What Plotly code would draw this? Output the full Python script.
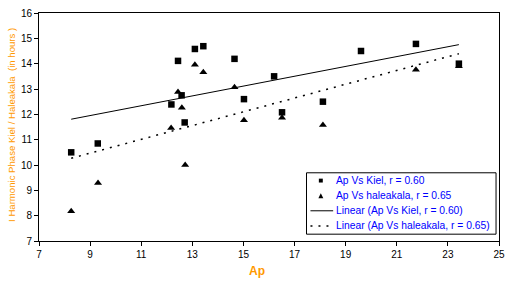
import numpy as np
import plotly.graph_objects as go

# Data
kiel_ap = [8.26, 9.30, 12.18, 12.44, 12.58, 12.70, 13.10, 13.43, 14.65, 15.02, 16.20, 16.51, 18.11, 19.60, 21.75, 23.43]
kiel_phase = [10.50, 10.85, 12.39, 14.11, 12.75, 11.68, 14.58, 14.69, 14.19, 12.60, 13.50, 12.08, 12.50, 14.50, 14.78, 14.00]

hal_ap = [8.26, 9.31, 12.17, 12.44, 12.59, 12.72, 13.10, 13.43, 14.65, 15.02, 16.51, 18.11, 21.75, 23.43]
hal_phase = [8.17, 9.29, 11.46, 12.88, 12.26, 10.00, 13.96, 13.66, 13.07, 11.77, 11.87, 11.58, 13.76, 13.90]

x_ticks = [7, 9, 11, 13, 15, 17, 19, 21, 23, 25]
y_ticks = [7, 8, 9, 10, 11, 12, 13, 14, 15, 16]

legend_labels = ["Ap Vs Kiel, r = 0.60", "Ap Vs haleakala, r = 0.65",
                 "Linear (Ap Vs Kiel, r = 0.60)", "Linear (Ap Vs haleakala, r = 0.65)"]

def trend(xs, ys):
    k, b = np.polyfit(xs, ys, 1)
    xr = [min(xs), max(xs)]
    return xr, [k * v + b for v in xr]

FONT = "Liberation Sans, Arial, sans-serif"
NARROW = "Liberation Sans Narrow, Arial Narrow, Liberation Sans, sans-serif"
W, H = 512, 281
ML, MR, MT, MB = 39, 7, 7, 40
PW, PH = W - ML - MR, H - MT - MB

def px(x):
    return (x - ML) / PW

def py(y):
    return (H - MB - y) / PH

fig = go.Figure()
fig.add_trace(go.Scatter(x=kiel_ap, y=kiel_phase, mode="markers", name=legend_labels[0],
                         marker=dict(symbol="square", size=6.5, color="black")))
fig.add_trace(go.Scatter(x=hal_ap, y=hal_phase, mode="markers", name=legend_labels[1],
                         marker=dict(symbol="triangle-up", size=7, color="black")))
tx, ty = trend(kiel_ap, kiel_phase)
fig.add_trace(go.Scatter(x=tx, y=ty, mode="lines", name=legend_labels[2],
                         line=dict(color="black", width=1)))
tx2, ty2 = trend(hal_ap, hal_phase)
fig.add_trace(go.Scatter(x=tx2, y=ty2, mode="lines", name=legend_labels[3],
                         line=dict(color="black", width=1.5, dash="2px,6px")))

# Legend drawn as a boxed key (Excel-style compact legend)
rows = [179, 194.5, 210, 225.5]
shapes = [
    dict(type="rect", xref="paper", yref="paper", x0=px(310), x1=px(502), y0=py(234), y1=py(171),
         line=dict(color="black", width=1), fillcolor="white", layer="above"),
    dict(type="rect", xref="paper", yref="paper", x0=px(322.5), x1=px(326.5), y0=py(rows[0] + 2), y1=py(rows[0] - 2),
         line=dict(width=0), fillcolor="black", layer="above"),
    dict(type="path", xref="paper", yref="paper",
         path="M {} {} L {} {} L {} {} Z".format(px(322), py(rows[1] + 2.5), px(327), py(rows[1] + 2.5), px(324.5), py(rows[1] - 2.5)),
         line=dict(width=0), fillcolor="black", layer="above"),
    dict(type="line", xref="paper", yref="paper", x0=px(314), x1=px(337), y0=py(rows[2]), y1=py(rows[2]),
         line=dict(color="black", width=1), layer="above"),
    dict(type="line", xref="paper", yref="paper", x0=px(314), x1=px(337), y0=py(rows[3]), y1=py(rows[3]),
         line=dict(color="black", width=1.5, dash="2px,6px"), layer="above"),
]

annotations = [
    dict(text="<b>Ap</b>", x=px(259.5), y=py(272), xref="paper", yref="paper", showarrow=False,
         xanchor="center", yanchor="middle", font=dict(family=FONT, size=12, color="#FF9900")),
    dict(text="I Harmonic Phase Kiel / Haleakala  (in hours )", textangle=-90,
         xref="paper", yref="paper", x=px(11), y=py(121.5), showarrow=False,
         xanchor="center", yanchor="middle", font=dict(family=NARROW, size=9.6, color="#FF9900")),
]
for lbl, ry in zip(legend_labels, rows):
    annotations.append(dict(text=lbl, x=px(338), y=py(ry), xref="paper", yref="paper",
                            showarrow=False, xanchor="left", yanchor="middle",
                            font=dict(family=FONT, size=10.3, color="#0000FF")))

fig.update_layout(
    width=W, height=H,
    margin=dict(l=ML, r=MR, t=MT, b=MB),
    paper_bgcolor="white", plot_bgcolor="white",
    font=dict(family=FONT, size=10, color="black"),
    showlegend=False,
    xaxis=dict(range=[7, 25], tickvals=x_ticks, showgrid=False, zeroline=False,
               showline=True, linecolor="black", linewidth=1, mirror=True,
               ticks="outside", ticklen=4, tickcolor="black",
               tickfont=dict(family=FONT, size=10, color="black")),
    yaxis=dict(range=[7, 16], tickvals=y_ticks, showgrid=False, zeroline=False,
               showline=True, linecolor="black", linewidth=1, mirror=True,
               ticks="outside", ticklen=4, tickcolor="black",
               tickfont=dict(family=FONT, size=10, color="black")),
    shapes=shapes,
    annotations=annotations,
)

fig.write_html("out.html", config={"displayModeBar": False},
               post_script="document.body.style.margin='0';document.body.style.overflow='hidden';")
